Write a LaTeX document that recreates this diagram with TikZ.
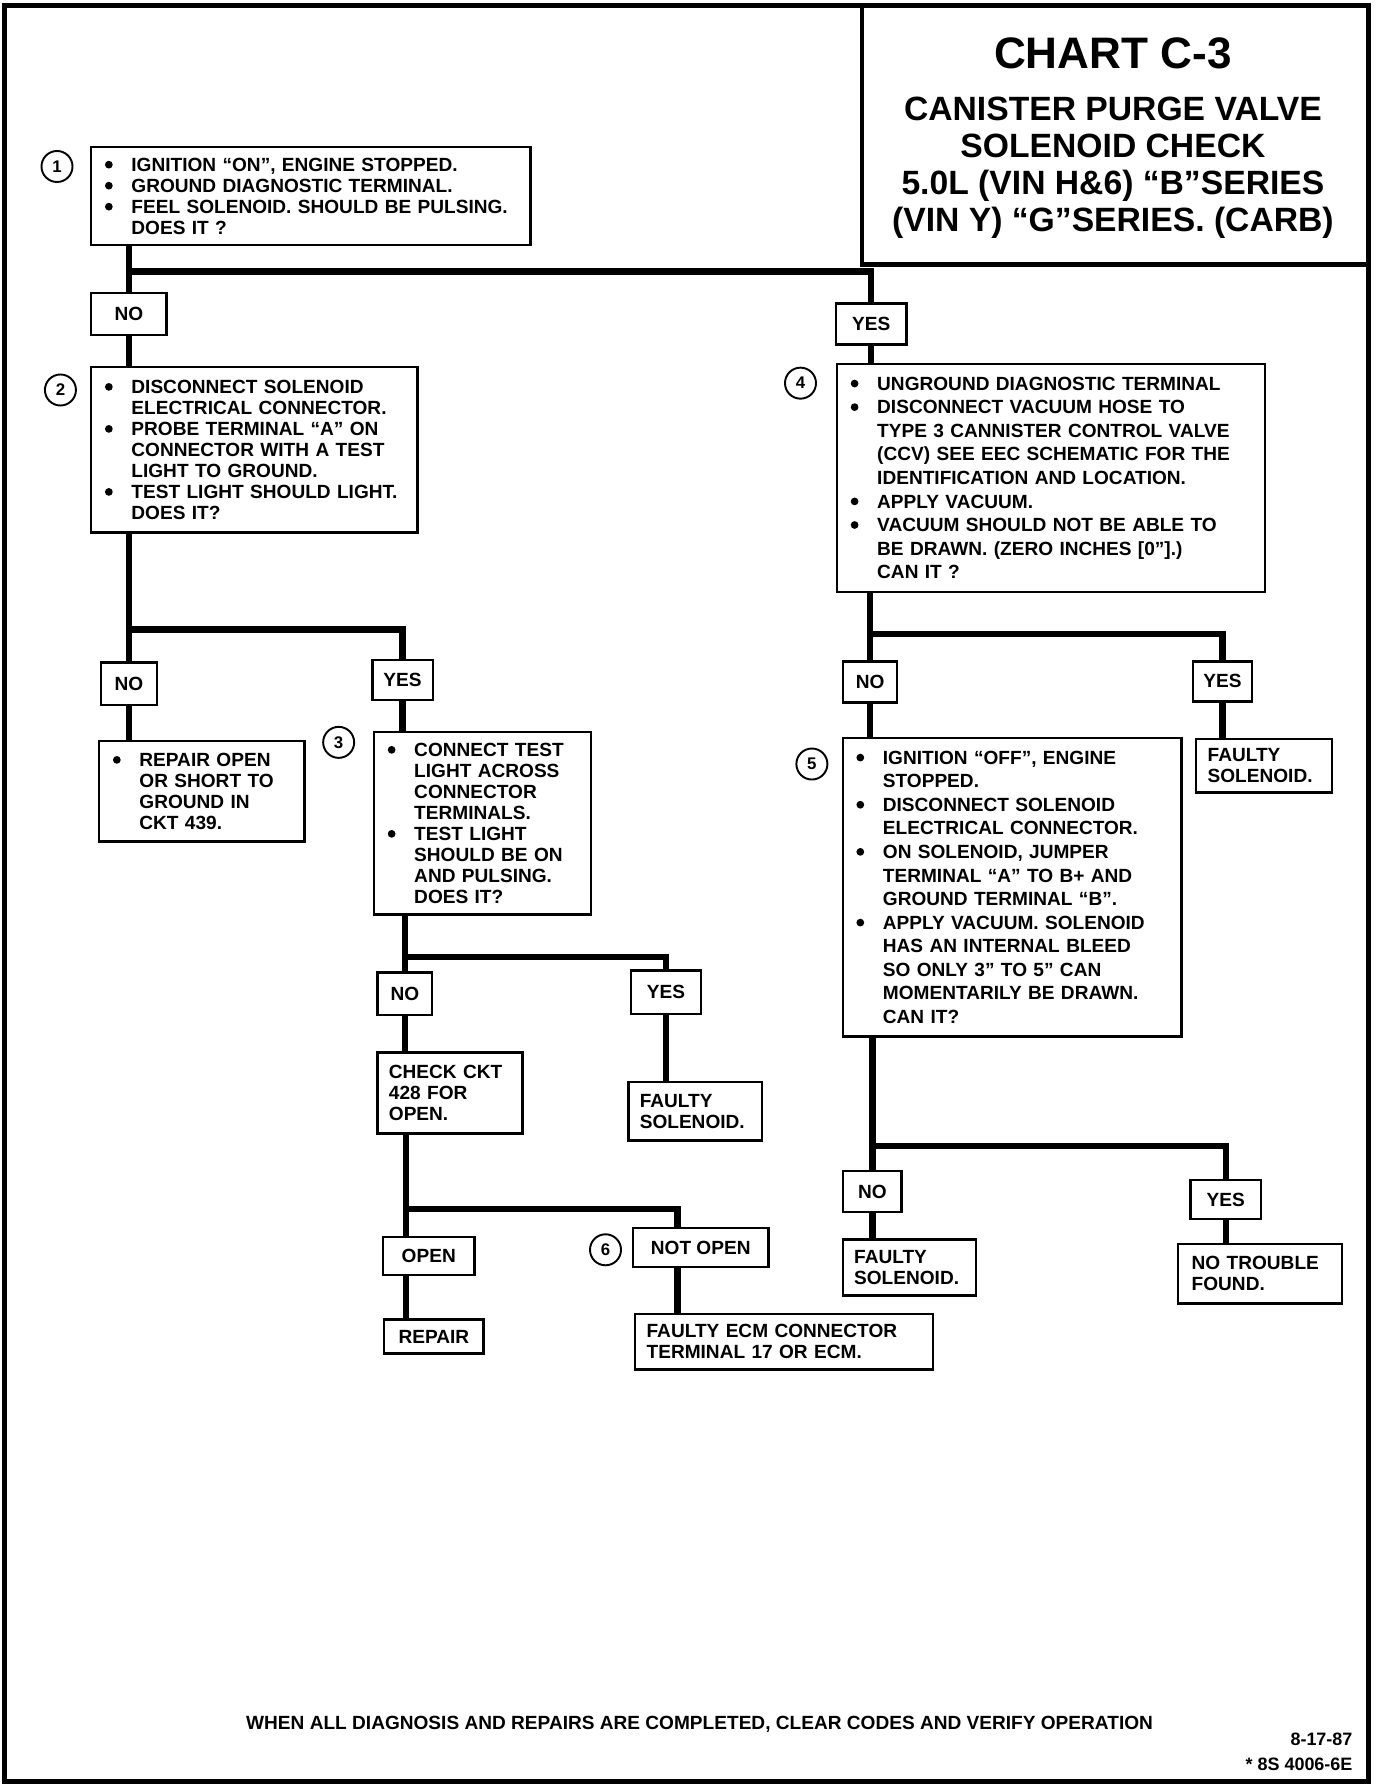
\documentclass[tikz,border=0pt]{standalone}
\usepackage{fontspec}
\setmainfont{Liberation Sans}
\newcommand{\blt}{\makebox[0.58cm][l]{\tikz[baseline=0pt]\fill (0.08cm,0.145cm) circle (0.085cm);}}
\newcommand{\indt}{\hspace*{0.58cm}}

\begin{document}
\begin{tikzpicture}[x=0.025cm,y=-0.025cm,
  frame/.style={line width=3pt},
  box/.style={draw,line width=1.5pt,anchor=north west,align=left,inner xsep=0.3cm,inner ysep=0pt,font=\fontsize{11.9}{13.1}\selectfont\bfseries},
  wide/.style={box,font=\fontsize{11.9}{14.7}\selectfont\bfseries},
  plain/.style={box,inner xsep=0.25cm},
  tag/.style={draw,line width=1.5pt,inner sep=0pt,font=\fontsize{11.9}{13.1}\selectfont\bfseries},
  num/.style={draw,circle,line width=1.2pt,minimum size=0.68cm,inner sep=0pt,font=\fontsize{10.5}{12}\selectfont\bfseries},
  link/.style={line width=4pt}]
  \useasboundingbox (0,0) rectangle (1221,1568);
  % Frame and title block
  \draw[frame] (4,5) rectangle (1200,1562);
  \draw[frame] (756,5) |- (1200,232);
  \node[font=\fontsize{27.5}{30}\selectfont\bfseries,anchor=base] (ttl) at (976,60) {CHART C-3};
  \node[font=\fontsize{21}{23.2}\selectfont\bfseries,align=center] (sub) at (976,147) {CANISTER PURGE VALVE\\SOLENOID CHECK\\5.0L (VIN H\&6) “B”SERIES\\(VIN Y) “G”SERIES. (CARB)};
  % Left branch
  \node[num] (c1) at (50,146) {1};
  \node[box,text width=9.025cm,minimum height=2.15cm] (b1) at (79,128) {\blt IGNITION “ON”,  ENGINE  STOPPED.\\\blt GROUND DIAGNOSTIC TERMINAL.\\\blt FEEL SOLENOID.  SHOULD BE PULSING.\\\indt DOES IT  ?};
  \node[tag,minimum width=1.65cm,minimum height=0.925cm] (no1) at (113,275.5) {NO};
  \node[tag,minimum width=1.55cm,minimum height=0.9cm] (yes1) at (764,284) {YES};
  \node[num] (c2) at (53,342) {2};
  \node[box,text width=6.55cm,minimum height=3.625cm] (b2) at (79,321) {\blt DISCONNECT SOLENOID\\\indt ELECTRICAL CONNECTOR.\\\blt PROBE TERMINAL “A” ON\\\indt CONNECTOR WITH A TEST\\\indt LIGHT TO GROUND.\\\blt TEST LIGHT SHOULD LIGHT.\\\indt DOES IT?};
  \node[tag,minimum width=1.225cm,minimum height=0.925cm] (no2) at (113,599.5) {NO};
  \node[tag,minimum width=1.325cm,minimum height=0.875cm] (yes2) at (353,596.5) {YES};
  \node[box,text width=3.9cm,minimum height=2.2cm] (rep) at (86,649) {\blt REPAIR OPEN\\\indt OR SHORT TO\\\indt GROUND IN\\\indt CKT 439.};
  \node[num] (c3) at (297,651) {3};
  \node[box,text width=4.15cm,minimum height=4cm] (b3) at (327,641) {\blt CONNECT TEST\\\indt LIGHT ACROSS\\\indt CONNECTOR\\\indt TERMINALS.\\\blt TEST LIGHT\\\indt SHOULD BE ON\\\indt AND PULSING.\\\indt DOES IT?};
  \node[tag,minimum width=1.2cm,minimum height=0.925cm] (no3) at (355,871.5) {NO};
  \node[tag,minimum width=1.525cm,minimum height=0.95cm] (yes3) at (584,870) {YES};
  \node[plain,text width=2.675cm,minimum height=1.775cm] (chk) at (330,922) {CHECK CKT\\428 FOR\\OPEN.};
  \node[plain,text width=2.425cm,minimum height=1.275cm] (fs1) at (550,948) {FAULTY\\SOLENOID.};
  \node[tag,minimum width=2cm,minimum height=0.825cm] (opn) at (376,1101.5) {OPEN};
  \node[num] (c6) at (531,1096) {6};
  \node[tag,minimum width=2.975cm,minimum height=0.85cm] (nop) at (614.5,1094) {NOT OPEN};
  \node[tag,minimum width=2.175cm,minimum height=0.75cm] (rpr) at (380.5,1172) {REPAIR};
  \node[plain,text width=6.025cm,minimum height=1.225cm] (ecm) at (556,1151) {FAULTY  ECM CONNECTOR\\TERMINAL 17 OR ECM.};
  % Right branch
  \node[num] (c4) at (702,336) {4};
  \node[wide,text width=8.775cm,minimum height=5cm] (b4) at (733,318) {\blt UNGROUND DIAGNOSTIC TERMINAL\\\blt DISCONNECT  VACUUM HOSE TO\\\indt TYPE 3 CANNISTER CONTROL VALVE\\\indt (CCV)  SEE  EEC  SCHEMATIC  FOR THE\\\indt IDENTIFICATION  AND LOCATION.\\\blt APPLY  VACUUM.\\\blt VACUUM SHOULD NOT BE ABLE TO\\\indt BE DRAWN.  (ZERO INCHES  [0”].)\\\indt CAN IT ?};
  \node[tag,minimum width=1.175cm,minimum height=0.9cm] (no4) at (763,598) {NO};
  \node[tag,minimum width=1.3cm,minimum height=0.875cm] (yes4) at (1072,597.5) {YES};
  \node[plain,text width=2.475cm,minimum height=1.175cm] (fs2) at (1048,647) {FAULTY\\SOLENOID.};
  \node[num] (c5) at (712,670) {5};
  \node[wide,text width=6.825cm,minimum height=6.55cm] (b5) at (738,646) {\blt IGNITION “OFF”, ENGINE\\\indt STOPPED.\\\blt DISCONNECT SOLENOID\\\indt ELECTRICAL CONNECTOR.\\\blt ON SOLENOID,  JUMPER\\\indt TERMINAL “A” TO B+  AND\\\indt GROUND TERMINAL  “B”.\\\blt APPLY VACUUM.  SOLENOID\\\indt HAS  AN INTERNAL BLEED\\\indt SO ONLY 3” TO 5” CAN\\\indt MOMENTARILY BE DRAWN.\\\indt CAN IT?};
  \node[tag,minimum width=1.275cm,minimum height=0.9cm] (no5) at (765,1045) {NO};
  \node[tag,minimum width=1.55cm,minimum height=0.85cm] (yes5) at (1075,1052) {YES};
  \node[plain,text width=2.425cm,minimum height=1.225cm] (fs3) at (738,1086) {FAULTY\\SOLENOID.};
  \node[box,text width=3cm,minimum height=1.3cm] (ntf) at (1032,1090) {NO TROUBLE\\FOUND.};
  % Footer
  \node[font=\fontsize{11.9}{13}\selectfont\bfseries,anchor=base] (note) at (613.5,1517) {WHEN ALL DIAGNOSIS AND REPAIRS ARE COMPLETED, CLEAR CODES AND VERIFY OPERATION};
  \node[font=\fontsize{11.2}{12}\selectfont\bfseries,anchor=base east] (date) at (1191,1531) {8-17-87};
  \node[font=\fontsize{11.2}{12}\selectfont\bfseries,anchor=base east] (code) at (1191,1553) {* 8S 4006-6E};
  % Connectors
  \coordinate (j1) at (113,238);
  \coordinate (j2) at (113,552);
  \coordinate (j3) at (355,839);
  \coordinate (j4) at (356,1060);
  \coordinate (j5) at (594,1060);
  \coordinate (j6) at (763,556);
  \coordinate (j7) at (765,1005);
  \draw[link] (b1.south -| no1) -- (no1.north);
  \draw[link] (j1) -| (yes1.north);
  \draw[link] (no1.south) -- (no1.south |- b2.north);
  \draw[link] (yes1.south) -- (yes1.south |- b4.north);
  \draw[link] (b2.south -| no2) -- (no2.north);
  \draw[link] (j2) -| (yes2.north);
  \draw[link] (no2.south) -- (no2.south |- rep.north);
  \draw[link] (yes2.south) -- (yes2.south |- b3.north);
  \draw[link] (b3.south -| no3) -- (no3.north);
  \draw[link] (j3) -| (yes3.north);
  \draw[link] (no3.south) -- (no3.south |- chk.north);
  \draw[link] (yes3.south) -- (yes3.south |- fs1.north);
  \draw[link] (chk.south -| j4) -- (j4 |- opn.north);
  \draw[link] (j4) -| (j5 |- nop.north);
  \draw[link] (opn.south -| j4) -- (j4 |- rpr.north);
  \draw[link] (nop.south -| j5) -- (j5 |- ecm.north);
  \draw[link] (b4.south -| no4) -- (no4.north);
  \draw[link] (j6) -| (yes4.north);
  \draw[link] (no4.south) -- (no4.south |- b5.north);
  \draw[link] (yes4.south) -- (yes4.south |- fs2.north);
  \draw[link] (b5.south -| no5) -- (no5.north);
  \draw[link] (j7) -| (yes5.north);
  \draw[link] (no5.south) -- (no5.south |- fs3.north);
  \draw[link] (yes5.south) -- (yes5.south |- ntf.north);
\end{tikzpicture}
\end{document}
